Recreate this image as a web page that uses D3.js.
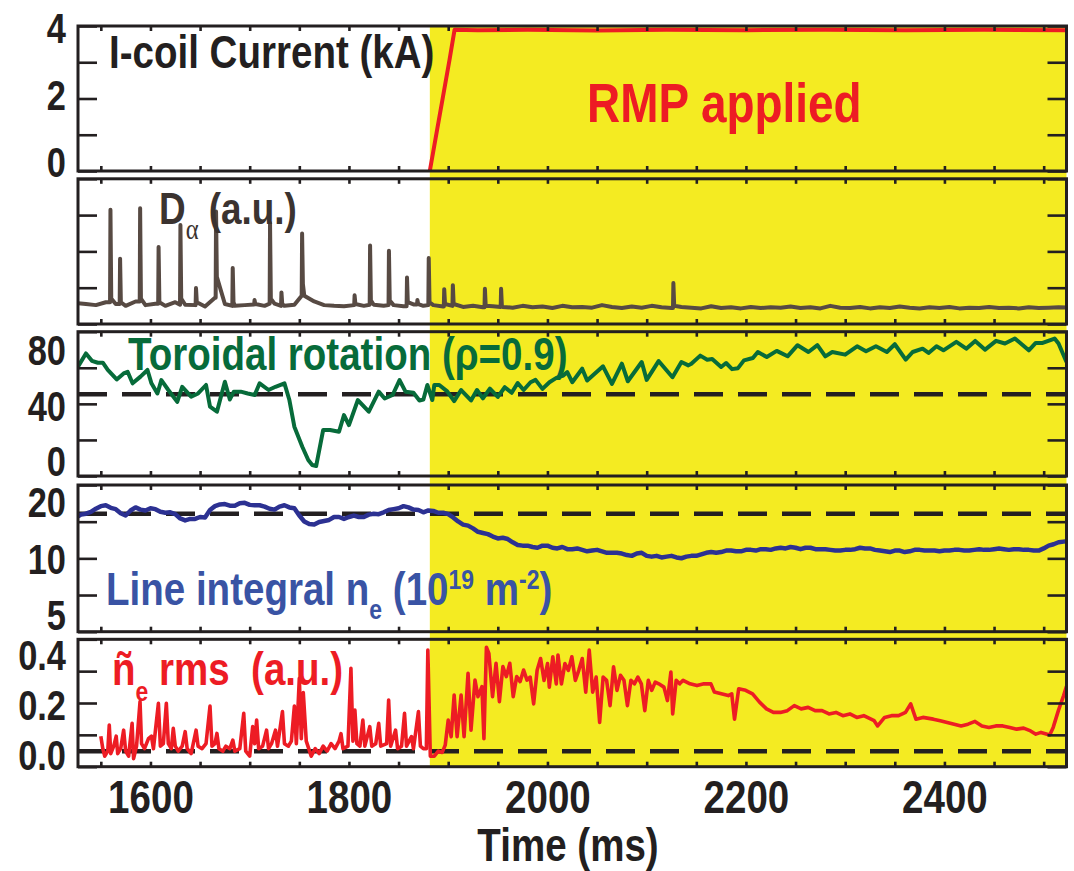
<!DOCTYPE html>
<html>
<head>
<meta charset="utf-8">
<script src="https://cdn.jsdelivr.net/npm/d3@7"></script>
<style>
  html, body { margin: 0; padding: 0; background: #fff; }
  svg text { white-space: pre; }
</style>
</head>
<body>
<svg id="chart" width="1074" height="871"></svg>
<script>
// ---------------- data ----------------
const timeDomain = [1527, 2523];           // ms
const rmpStart = 1881.5;                   // ms, RMP coils switched on
const timeTickLabels = [1600, 1800, 2000, 2200, 2400];
const timeMinorTicks = [1550, 1600, 1650, 1700, 1750, 1800, 1850, 1900, 1950, 2000,
                        2050, 2100, 2150, 2200, 2250, 2300, 2350, 2400, 2450, 2500];

// I-coil current (kA)
const icoilTime = [1881.5, 1901.3, 1906.4, 1930, 1980, 2050, 2120, 2200, 2280, 2360, 2440, 2523];
const icoilKA   = [-0.24, 3.07, 3.97, 3.96, 3.97, 3.95, 3.97, 3.96, 3.97, 3.96, 3.97, 3.96];
const icoilAxis = [-0.244, 4.085];
const icoilTickLabels = [0, 2, 4];

// D-alpha: slow baseline every 10 ms from 1525 ms, plus ELM spikes
const dalphaStart = 1525, dalphaStep = 10;
const dalphaBase = [
  0.58,0.55,0.52,0.60,0.55,0.50,0.62,0.52,0.56,0.50,
  0.60,0.53,0.52,0.48,0.72,0.55,0.50,0.52,0.54,0.50,
  0.56,0.50,0.53,0.78,0.62,0.52,0.50,0.49,0.52,0.50,
  0.53,0.50,0.52,0.49,0.54,0.50,0.52,0.48,0.50,0.47,
  0.50,0.46,0.49,0.47,0.45,0.50,0.46,0.48,0.44,0.50,
  0.46,0.47,0.45,0.52,0.47,0.44,0.48,0.45,0.50,0.46,
  0.44,0.47,0.45,0.43,0.49,0.44,0.46,0.43,0.47,0.44,
  0.46,0.45,0.48,0.44,0.46,0.43,0.50,0.45,0.44,0.47,
  0.43,0.46,0.44,0.48,0.45,0.43,0.46,0.44,0.47,0.43,
  0.45,0.44,0.47,0.44,0.45,0.43,0.46,0.44,0.45,0.46,
  0.45];
const elmTime = [1559.7,1569.4,1589.6,1608.2,1630.2,1645.9,1666.1,1682.9,1704.9,1720.5,1732.0,1752.8,
                 1805.7,1821.3,1840.3,1858.5,1869.0,1880.4,1896.0,1904.7,1937.0,1953.3,2126.9];
const elmPeak = [3.15,1.80,3.19,2.12,2.73,0.99,3.10,1.54,0.66,2.78,0.87,2.49,
                 0.79,2.16,2.02,1.28,0.66,1.82,0.96,1.07,0.97,0.97,1.13];
const elmTail = [0.70,0.60,0.70,0.60,0.70,0.60,1.30,0.60,0.55,0.70,0.55,1.10,
                 0.55,0.65,0.65,0.60,0.55,0.60,0.55,0.55,0.50,0.50,0.50];
const dalphaAxis = [0, 4];

// Toroidal rotation at rho = 0.9 (km/s): [time, value]
const rotation = [
  [1527,68.7],[1535,78.3],[1541,73.0],[1547,71.6],[1552,71.6],[1557,66.4],[1566,59.6],[1573,63.9],
  [1577,65.1],[1582,56.8],[1590,61.6],[1597,66.4],[1601,56.8],[1607,49.5],[1611,59.1],[1618,52.0],
  [1627,43.5],[1632,54.3],[1641,47.2],[1648,49.5],[1656,55.6],[1660,40.0],[1667,36.4],[1675,57.9],
  [1680,45.2],[1684,50.8],[1691,50.8],[1698,49.5],[1705,48.4],[1710,56.8],[1719,52.0],[1726,54.3],
  [1735,56.8],[1740,44.8],[1745,25.6],[1753,11.2],[1759,1.7],[1763,-1.9],[1767,-2.6],[1774,23.2],
  [1781,23.2],[1790,22.0],[1795,34.0],[1800,26.8],[1809,44.8],[1820,36.4],[1830,50.8],[1836,45.9],
  [1844,48.4],[1851,59.1],[1857,50.8],[1865,50.0],[1871,44.5],[1875,45.2],[1879,55.6],[1884,44.8],
  [1886,55.6],[1891,55.6],[1899,51.0],[1906,44.0],[1913,52.0],[1923,44.5],[1929,52.0],[1935,46.0],
  [1942,53.0],[1950,47.0],[1957,54.0],[1964,50.0],[1970,57.0],[1976,52.0],[1983,57.6],[1988,59.3],
  [1995,52.8],[2002,57.6],[2009,60.7],[2016,62.4],[2020,64.9],[2025,57.6],[2035,67.3],[2040,58.8],
  [2056,69.0],[2065,56.4],[2075,70.9],[2081,58.3],[2095,72.1],[2100,59.3],[2112,72.8],[2126,61.2],
  [2135,72.1],[2142,69.7],[2145,70.9],[2154,76.7],[2161,73.8],[2166,74.3],[2175,68.5],[2180,71.4],
  [2186,67.0],[2192,67.7],[2198,73.3],[2207,75.0],[2212,79.3],[2221,75.7],[2231,80.1],[2242,76.2],
  [2252,84.2],[2263,79.3],[2272,84.2],[2280,76.2],[2287,79.3],[2300,77.4],[2312,83.4],[2321,79.8],
  [2331,83.4],[2342,79.3],[2350,84.9],[2361,73.8],[2368,79.3],[2378,81.7],[2384,78.6],[2392,83.4],
  [2399,80.5],[2412,86.6],[2422,81.7],[2431,87.3],[2441,81.0],[2452,87.3],[2461,85.4],[2471,89.0],
  [2485,80.5],[2492,85.8],[2499,85.8],[2511,89.0],[2515,85.4],[2523,72.1]];
const rotationRef = 49;
const rotationAxis = [-9.8, 93.9];
const rotationTickLabels = [0, 40, 80];

// Line-integrated density (10^19 m^-2), every 5 ms from 1525 ms
const densStart = 1525, densStep = 5;
const density = [
  16.8,17.4,17.6,18.0,18.7,19.3,19.5,18.9,18.6,17.7,17.2,18.3,19.0,18.5,18.3,18.8,18.6,18.0,17.8,17.9,
  17.5,16.6,16.2,16.5,16.5,16.9,16.8,18.4,19.3,19.7,19.8,19.4,19.4,20.0,20.1,19.6,19.5,19.5,19.2,18.7,
  18.5,19.2,19.5,19.0,18.8,17.2,16.0,15.5,15.4,15.9,16.1,16.3,16.9,16.9,16.5,16.9,17.2,16.9,16.9,17.4,
  17.6,17.5,17.9,18.4,18.6,18.8,19.3,19.0,18.5,18.4,17.9,18.3,18.2,17.8,17.8,17.5,16.8,16.0,15.4,15.2,
  14.7,14.1,13.9,13.7,13.3,13.0,13.1,12.9,12.4,12.0,11.9,11.9,11.7,11.6,11.9,11.9,11.6,11.5,11.7,11.4,
  11.4,11.5,11.3,11.1,11.2,11.3,11.1,10.9,10.9,10.9,10.8,10.6,10.5,10.8,10.9,10.5,10.4,10.5,10.3,10.4,
  10.5,10.3,10.2,10.4,10.5,10.5,10.7,10.9,11.0,10.9,11.0,11.2,11.2,11.1,11.1,11.3,11.3,11.2,11.4,11.4,
  11.3,11.5,11.6,11.5,11.7,11.6,11.4,11.6,11.6,11.4,11.4,11.4,11.3,11.2,11.2,11.3,11.3,11.4,11.6,11.5,
  11.5,11.3,11.2,11.1,11.0,11.2,11.2,11.0,11.1,11.3,11.3,11.2,11.2,11.2,11.1,11.2,11.2,11.3,11.3,11.2,
  11.2,11.3,11.4,11.3,11.3,11.4,11.5,11.4,11.3,11.4,11.4,11.3,11.3,11.2,11.2,11.5,11.9,12.1,12.4,12.5,
  12.6];
const densityRef = 17.6;
const densityAxis = [4.15, 25];
const densityTickLabels = [5, 10, 20];

// Density fluctuation rms (a.u.): [time, value]
const fluct = [
  [1550,0.08],[1552,0.03],[1554,0.0],[1557,0.02],[1558.5,0.124],[1560,0.01],[1563,0.04],[1565.5,0.08],
  [1567,0.01],[1570,0.03],[1573,0.104],[1575,0.02],[1578,0.0],[1581.5,0.131],[1583,-0.01],[1586,0.04],
  [1589.5,0.218],[1591,0.05],[1594,0.03],[1598,0.07],[1601,0.08],[1603,0.03],[1608,0.211],[1610,0.04],
  [1613,0.05],[1616,0.211],[1618,0.05],[1621,0.03],[1623,0.111],[1625,0.04],[1628,0.02],[1632,0.04],
  [1635,0.098],[1637,0.03],[1641,0.01],[1646,0.104],[1648,0.04],[1652,0.03],[1656,0.05],[1660,0.2],
  [1662,0.04],[1665,0.05],[1667,0.091],[1669,0.03],[1673,0.02],[1676,0.04],[1680,0.03],[1683,0.064],
  [1685,0.02],[1690,0.03],[1694,0.171],[1696,0.02],[1700,0.0],[1703,0.118],[1705,0.05],[1707,0.144],
  [1709,0.03],[1713,0.04],[1717,0.104],[1719,0.03],[1722,0.05],[1726,0.104],[1728,0.04],[1733,0.178],
  [1735,0.05],[1739,0.04],[1742,0.06],[1745,0.2],[1747,0.05],[1750,0.311],[1752,0.07],[1754,0.254],
  [1757,0.06],[1762,0.0],[1766,0.03],[1770,0.01],[1774,0.04],[1778,0.02],[1782,0.05],[1786,0.03],
  [1790,0.06],[1792,0.09],[1794,0.03],[1799,0.04],[1802,0.351],[1804,0.06],[1806,0.184],[1808,0.05],
  [1811,0.04],[1814,0.144],[1816,0.04],[1821,0.118],[1823,0.04],[1827,0.05],[1830,0.131],[1832,0.04],
  [1838,0.05],[1840,0.224],[1842,0.04],[1847,0.104],[1849,0.03],[1853,0.04],[1856,0.171],[1858,0.04],
  [1863,0.078],[1865,0.03],[1870,0.178],[1872,0.04],[1875,0.03],[1878,0.03],[1879.5,0.424],[1882,0.0],
  [1886,0.0],[1890,0.02],[1894,0.015],[1897,0.044],[1900,0.144],[1903,0.078],[1906,0.244],[1909,0.078],
  [1913,0.244],[1916,0.078],[1920,0.331],[1923,0.104],[1927,0.304],[1930,0.238],[1934,0.278],[1936,0.07],
  [1938.5,0.435],[1941,0.411],[1944.7,0.238],[1948.2,0.371],[1951.6,0.218],[1955.1,0.358],[1958.6,0.318],
  [1962.1,0.371],[1965.5,0.238],[1969,0.318],[1972.5,0.298],[1976,0.344],[1979.4,0.304],
  [1982.6,0.316],[1986.1,0.209],[1989.6,0.343],[1993.1,0.390],[1996.6,0.303],[2000.1,0.370],[2001.9,0.276],
  [2005.4,0.397],[2008.9,0.289],[2010.6,0.404],[2014.1,0.289],[2017.6,0.370],[2021.1,0.343],[2024.6,0.397],
  [2028.1,0.303],[2031.6,0.343],[2035.1,0.390],[2038.6,0.256],[2042.1,0.424],[2045.6,0.256],[2049.1,0.316],
  [2052.6,0.135],[2056.1,0.316],[2059.6,0.303],[2063.1,0.202],[2066.6,0.357],[2070.1,0.263],[2073.6,0.323],
  [2077.1,0.303],[2080.6,0.202],[2084.1,0.303],[2087.6,0.289],[2091.1,0.316],[2094.6,0.289],[2098.1,0.182],
  [2101.6,0.303],[2105.1,0.263],[2108.6,0.296],[2112.2,0.289],[2117.4,0.276],[2120.9,0.222],[2124.4,0.336],
  [2126.2,0.169],[2129.7,0.303],[2133.2,0.289],[2136.7,0.303],[2143.7,0.289],[2150.7,0.282],[2157.7,0.289],
  [2164.7,0.289],[2168.2,0.256],[2175.2,0.249],[2182.2,0.242],[2185.7,0.249],[2188.5,0.148],[2192.7,0.269],
  [2199.7,0.263],[2206.7,0.249],[2213.7,0.216],[2220.7,0.189],[2227.7,0.175],[2234.7,0.175],[2241.7,0.182],
  [2248.7,0.202],[2255.7,0.189],[2262.7,0.195],[2269.7,0.182],[2276.7,0.182],[2283.7,0.169],[2290.7,0.175],
  [2297.7,0.162],[2304.7,0.169],[2311.7,0.155],[2318.7,0.162],[2329.2,0.142],[2332.7,0.121],[2339.7,0.155],
  [2346.7,0.162],[2353.8,0.162],[2360.8,0.175],[2366.0,0.209],[2371.3,0.148],[2378.3,0.155],[2388.8,0.148],
  [2395.8,0.142],[2402.8,0.135],[2409.8,0.128],[2416.8,0.121],[2423.8,0.128],[2430.8,0.139],[2437.8,0.121],
  [2444.8,0.115],[2451.8,0.121],[2458.8,0.121],[2465.8,0.115],[2472.8,0.108],[2479.8,0.112],[2486.8,0.101],
  [2492.1,0.088],[2497.3,0.095],[2506.1,0.085],[2509.6,0.115],[2514.8,0.182],[2520.1,0.242],[2523.0,0.279]];
const fluctRef = 0.02;
const fluctAxis = [-0.042, 0.467];
const fluctTickLabels = [0.0, 0.2, 0.4];

// ---------------- layout & style ----------------
const FONT = "'Liberation Sans', Arial, Helvetica, sans-serif";
const NARROW = 0.82;              // horizontal squeeze for a condensed bold look
const INK = "#231f20";
const RED = "#ed1c24";
const YELLOW = "#f4eb22";
const plotLeft = 78, plotRight = 1066.5;

const svg = d3.select("#chart");
const x = d3.scaleLinear().domain(timeDomain).range([plotLeft, plotRight]);

const panels = {
  icoil:  { top: 26,    bottom: 171 },
  dalpha: { top: 178.8, bottom: 324 },
  rot:    { top: 331.7, bottom: 476 },
  dens:   { top: 485,   bottom: 631.7 },
  fluct:  { top: 639.3, bottom: 766.7 }
};

const yIcoil  = d3.scaleLinear().domain(icoilAxis).range([panels.icoil.bottom, panels.icoil.top]);
const yDalpha = d3.scaleLinear().domain(dalphaAxis).range([panels.dalpha.bottom, panels.dalpha.top]);
const yRot    = d3.scaleLinear().domain(rotationAxis).range([panels.rot.bottom, panels.rot.top]);
const yDens   = d3.scaleLog().domain(densityAxis).range([panels.dens.bottom, panels.dens.top]);
const yFluct  = d3.scaleLinear().domain(fluctAxis).range([panels.fluct.bottom, panels.fluct.top]);

// RMP-on interval shading across all panels
svg.append("rect")
  .attr("x", x(rmpStart))
  .attr("y", panels.icoil.top)
  .attr("width", x(timeDomain[1]) - x(rmpStart))
  .attr("height", panels.fluct.bottom - panels.icoil.top)
  .attr("fill", YELLOW);

const defs = svg.append("defs");
function clipFor(name, p) {
  defs.append("clipPath").attr("id", "clip-" + name)
    .append("rect").attr("x", plotLeft).attr("y", p.top)
    .attr("width", plotRight - plotLeft).attr("height", p.bottom - p.top);
  return svg.append("g").attr("clip-path", `url(#clip-${name})`);
}

function trace(g, pts, yScale, color, width) {
  g.append("path")
    .datum(pts)
    .attr("fill", "none")
    .attr("stroke", color)
    .attr("stroke-width", width)
    .attr("stroke-linejoin", "round")
    .attr("d", d3.line().x(d => x(d[0])).y(d => yScale(d[1])));
}

function refLine(g, value, yScale) {
  g.append("line")
    .attr("x1", plotLeft).attr("x2", plotRight)
    .attr("y1", yScale(value)).attr("y2", yScale(value))
    .attr("stroke", INK).attr("stroke-width", 4.5)
    .attr("stroke-dasharray", "29,15");
}

// Panel 1: I-coil current
const gI = clipFor("icoil", panels.icoil);
trace(gI, icoilTime.map((t, i) => [t, icoilKA[i]]), yIcoil, RED, 4);

// Panel 2: D-alpha with ELM spikes merged into the baseline
const gD = clipFor("dalpha", panels.dalpha);
const dalphaTime = dalphaBase.map((_, i) => dalphaStart + i * dalphaStep);
let dalphaPts = dalphaTime
  .map((t, i) => [t, dalphaBase[i]])
  .filter(p => !elmTime.some(t => p[0] > t - 1 && p[0] < t + 1));
elmTime.forEach((t, i) => {
  const j = d3.minIndex(dalphaTime, s => Math.abs(s - t));
  const b = dalphaBase[j];
  dalphaPts.push([t - 0.4, b], [t, elmPeak[i]], [t + 0.8, elmTail[i]]);
});
dalphaPts.sort((a, b) => a[0] - b[0]);
trace(gD, dalphaPts, yDalpha, "#574a43", 4);

// Panel 3: toroidal rotation
const gR = clipFor("rot", panels.rot);
refLine(gR, rotationRef, yRot);
trace(gR, rotation, yRot, "#076b3a", 4);

// Panel 4: line-integrated density
const gN = clipFor("dens", panels.dens);
refLine(gN, densityRef, yDens);
trace(gN, density.map((v, i) => [densStart + i * densStep, v]), yDens, "#2c3192", 4.5);

// Panel 5: density fluctuation rms
const gF = clipFor("fluct", panels.fluct);
refLine(gF, fluctRef, yFluct);
trace(gF, fluct, yFluct, RED, 3.6);

// ---------------- frames, ticks and tick labels ----------------
const styleTicks = g => {
  g.select(".domain").remove();
  g.selectAll(".tick line").attr("stroke", INK).attr("stroke-width", 2.6);
};

function frame(p, yScale, labels, fmt) {
  const [r0, r1] = yScale.range();
  const quarters = d3.range(5).map(i => yScale.invert(r0 + (r1 - r0) * i / 4));

  svg.append("g").attr("transform", `translate(${plotLeft},0)`)
    .call(d3.axisLeft(yScale).tickValues(quarters).tickSize(-19).tickFormat(""))
    .call(styleTicks);
  svg.append("g").attr("transform", `translate(${plotRight},0)`)
    .call(d3.axisRight(yScale).tickValues(quarters).tickSize(-19).tickFormat(""))
    .call(styleTicks);

  svg.append("g").attr("transform", `translate(0,${p.top})`)
    .call(d3.axisTop(x).tickValues(timeMinorTicks).tickSize(-5).tickFormat(""))
    .call(styleTicks);
  svg.append("g").attr("transform", `translate(0,${p.bottom})`)
    .call(d3.axisBottom(x).tickValues(timeMinorTicks).tickSize(-5).tickFormat(""))
    .call(styleTicks);

  svg.append("rect")
    .attr("x", plotLeft).attr("y", p.top)
    .attr("width", plotRight - plotLeft).attr("height", p.bottom - p.top)
    .attr("fill", "none").attr("stroke", INK).attr("stroke-width", 3);

  if (labels) {
    const ax = svg.append("g").attr("transform", `translate(${plotLeft},0)`)
      .call(d3.axisLeft(yScale).tickValues(labels).tickSize(0).tickFormat(fmt));
    ax.select(".domain").remove();
    ax.selectAll("text")
      .attr("x", -12 / NARROW)
      .attr("transform", `scale(${NARROW},1)`)
      .attr("font-family", FONT).attr("font-weight", "bold")
      .attr("font-size", 42).attr("fill", INK);
  }
}

frame(panels.icoil, yIcoil, icoilTickLabels, d3.format("d"));
frame(panels.dalpha, yDalpha, null);
frame(panels.rot, yRot, rotationTickLabels, d3.format("d"));
frame(panels.dens, yDens, densityTickLabels, d3.format("d"));
frame(panels.fluct, yFluct, fluctTickLabels, d3.format(".1f"));

// time axis labels under the bottom panel
const xLab = svg.append("g").attr("transform", `translate(0,${panels.fluct.bottom})`)
  .call(d3.axisBottom(x).tickValues(timeTickLabels).tickSize(0).tickPadding(13).tickFormat(d3.format("d")));
xLab.select(".domain").remove();
xLab.selectAll("text")
  .attr("transform", `scale(${NARROW},1)`)
  .attr("font-family", FONT).attr("font-weight", "bold")
  .attr("font-size", 47).attr("fill", INK);

// ---------------- text annotations ----------------
function narrowText(px, py, size, color, anchor) {
  return svg.append("g")
    .attr("transform", `translate(${px},${py}) scale(${NARROW},1)`)
    .append("text")
    .attr("text-anchor", anchor || "start")
    .attr("font-family", FONT).attr("font-weight", "bold")
    .attr("font-size", size).attr("fill", color);
}

narrowText(568, 861, 47, INK, "middle").text("Time (ms)");
narrowText(109, 68.3, 47, INK).text("I-coil Current (kA)");
narrowText(587, 121.7, 56, RED).text("RMP applied");

const tD = narrowText(159, 224, 45, "#3b3330");
tD.append("tspan").text("D");
tD.append("tspan").attr("dy", 15).attr("font-family", "'Liberation Serif', 'DejaVu Serif', serif")
  .attr("font-weight", "normal").attr("font-size", 30).text("α");
tD.append("tspan").attr("dy", -15).text(" (a.u.)");

narrowText(128, 370, 47, "#076b3a").text("Toroidal rotation (ρ=0.9)");

const tN = narrowText(106, 605, 47, "#3953a4");
tN.append("tspan").text("Line integral n");
tN.append("tspan").attr("dy", 14).attr("font-size", 28).text("e");
tN.append("tspan").attr("dy", -14).text(" (10");
tN.append("tspan").attr("dy", -16).attr("font-size", 28).text("19");
tN.append("tspan").attr("dy", 16).text(" m");
tN.append("tspan").attr("dy", -16).attr("font-size", 28).text("-2");
tN.append("tspan").attr("dy", 16).text(")");

const tF = narrowText(112, 685, 47, RED);
tF.append("tspan").text("ñ");
tF.append("tspan").attr("dy", 16).attr("font-size", 28).text("e");
tF.append("tspan").attr("dy", -16).text(" rms  (a.u.)");
</script>
</body>
</html>
